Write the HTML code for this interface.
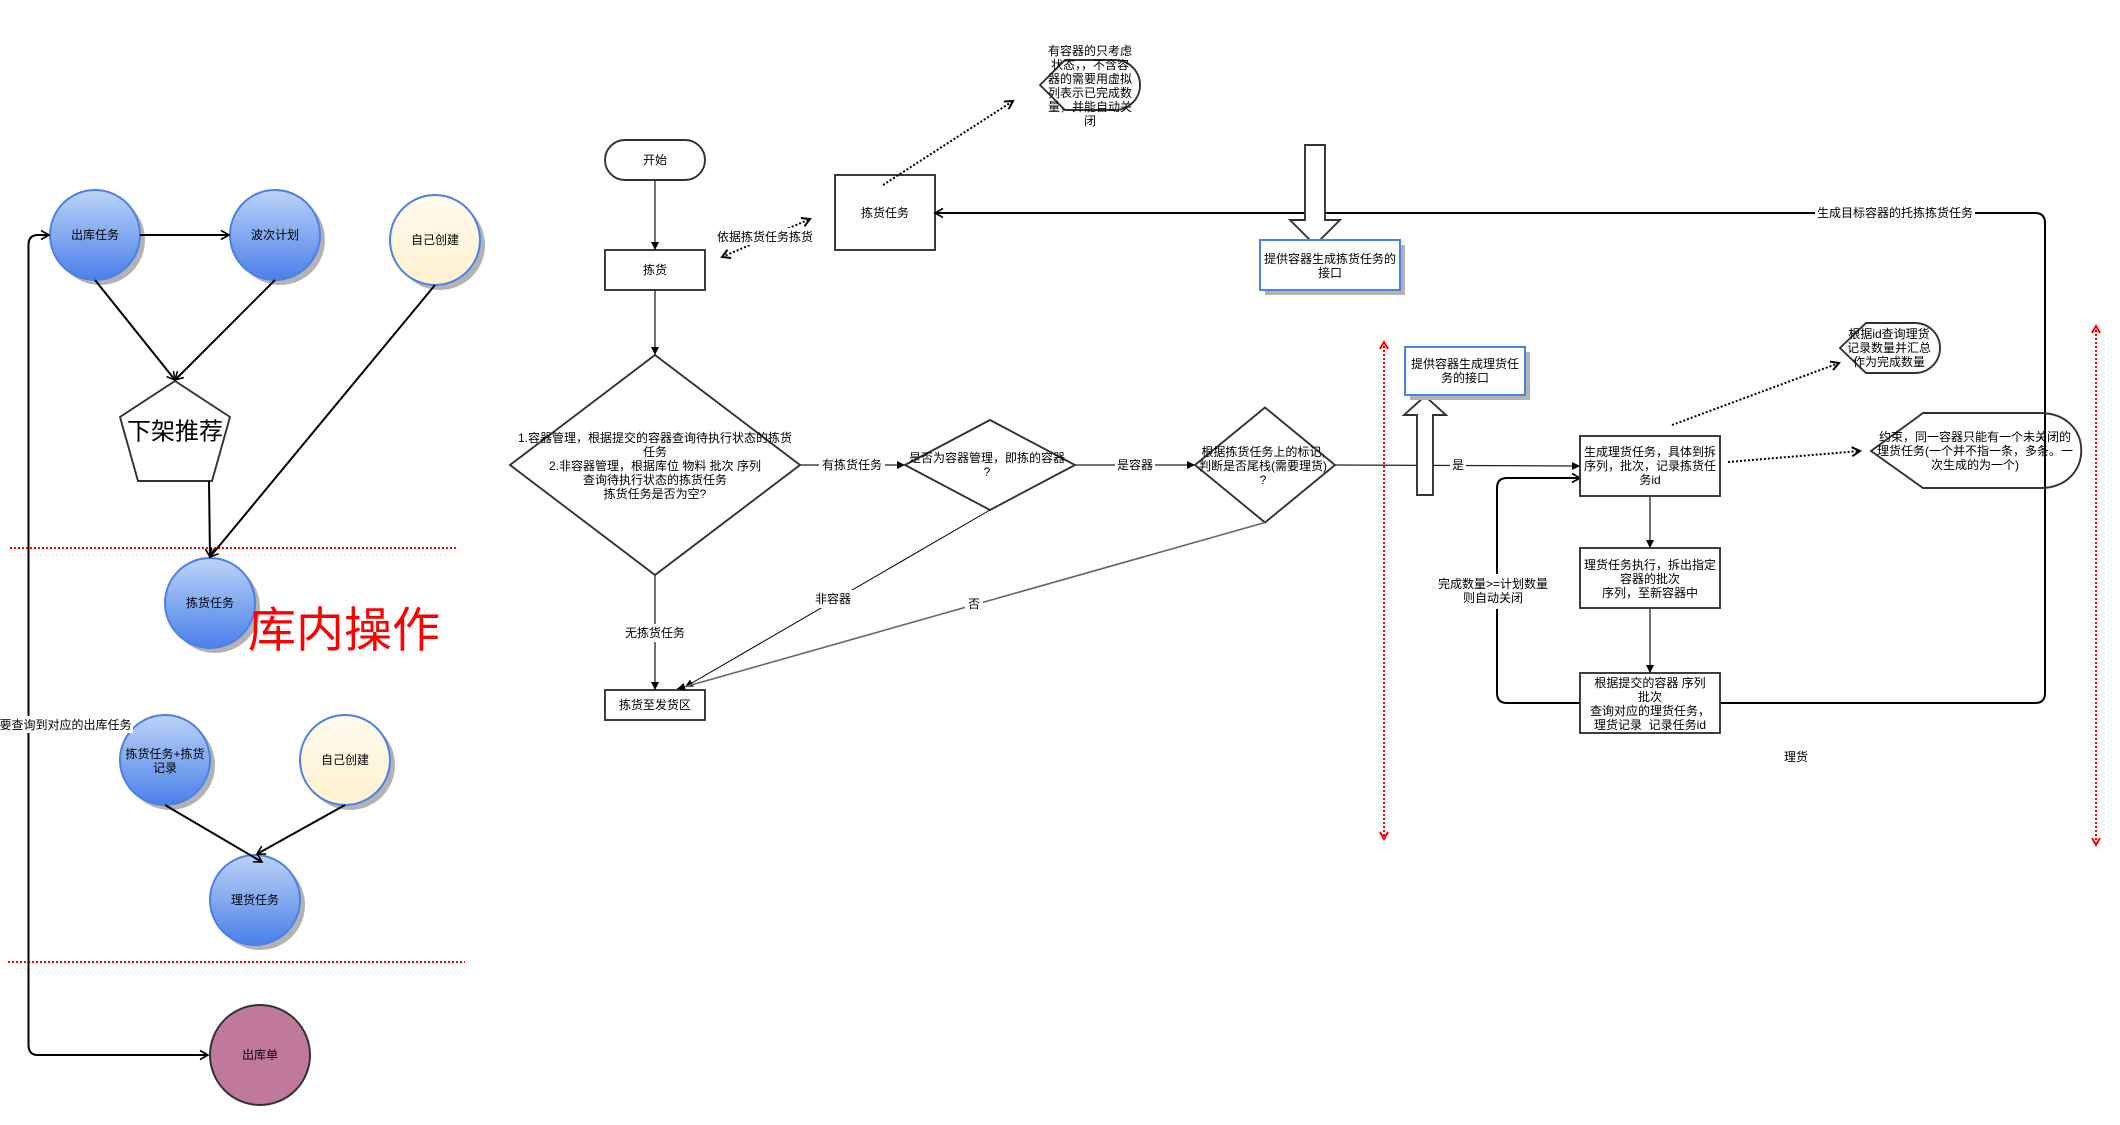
<!DOCTYPE html>
<html>
<head>
<meta charset="utf-8">
<style>
html,body{margin:0;padding:0;background:#fff;width:2120px;height:1125px;overflow:hidden}
svg{display:block;position:absolute;left:0;top:0}
text{font-family:"Liberation Sans","Noto Sans CJK SC",sans-serif;font-size:12px;fill:#000;text-anchor:middle;dominant-baseline:central;white-space:pre}
.c{stroke:#222;stroke-width:1.3;fill:none}
.t{stroke:#000;stroke-width:2;fill:none}
.s{stroke:#333;stroke-width:1.9;fill:#fff}
.b{stroke:#4a80e8;stroke-width:2}
.d{stroke:#000;stroke-width:2;stroke-dasharray:2 2;fill:none}
.r{stroke:#f00;stroke-width:2;stroke-dasharray:2 2;fill:none}
.lb{fill:#fff;stroke:none}
</style>
</head>
<body>
<svg width="2120" height="1125" viewBox="0 0 2120 1125" xmlns="http://www.w3.org/2000/svg">
<defs>
<linearGradient id="gb" x1="0" y1="0" x2="0" y2="1"><stop offset="0" stop-color="#bdd3f7"/><stop offset="1" stop-color="#4a80e8"/></linearGradient>
<linearGradient id="gy" x1="0" y1="0" x2="0" y2="1"><stop offset="0" stop-color="#fffbef"/><stop offset="1" stop-color="#fff1cf"/></linearGradient>
<marker id="block" markerUnits="userSpaceOnUse" markerWidth="9" markerHeight="9" refX="8" refY="4" orient="auto" overflow="visible"><path d="M0 0L8 4L0 8Z" fill="#000"/></marker>
<marker id="open" markerUnits="userSpaceOnUse" markerWidth="12" markerHeight="12" refX="9" refY="5" orient="auto" overflow="visible"><path d="M1 0.5L9 5L1 9.5M3 5L9 5" fill="none" stroke="#000" stroke-width="1.6"/></marker>
<marker id="openS" markerUnits="userSpaceOnUse" markerWidth="12" markerHeight="12" refX="9" refY="5" orient="auto-start-reverse" overflow="visible"><path d="M1 0.5L9 5L1 9.5" fill="none" stroke="#000" stroke-width="2"/></marker>
<marker id="red" markerUnits="userSpaceOnUse" markerWidth="12" markerHeight="12" refX="8" refY="5" orient="auto-start-reverse" overflow="visible"><path d="M1 1L8 5L1 9" fill="none" stroke="#f00" stroke-width="2"/></marker>
</defs>

<!-- Left side: red separators -->
<line x1="10" y1="548" x2="456" y2="548" class="r"/>
<line x1="8" y1="962" x2="465" y2="962" class="r"/>

<!-- Left circles -->
<circle cx="100" cy="240" r="45" fill="#b3b3b3"/>
<circle cx="280" cy="240" r="45" fill="#b3b3b3"/>
<circle cx="440" cy="245" r="45" fill="#b3b3b3"/>
<circle cx="215" cy="608" r="45" fill="#b3b3b3"/>
<circle cx="170" cy="765" r="45" fill="#b3b3b3"/>
<circle cx="350" cy="765" r="45" fill="#b3b3b3"/>
<circle cx="260" cy="905" r="45" fill="#b3b3b3"/>

<circle cx="95" cy="235" r="45" fill="url(#gb)" class="b"/>
<circle cx="275" cy="235" r="45" fill="url(#gb)" class="b"/>
<circle cx="435" cy="240" r="45" fill="url(#gy)" class="b"/>
<circle cx="210" cy="603" r="45" fill="url(#gb)" class="b"/>
<circle cx="165" cy="760" r="45" fill="url(#gb)" class="b"/>
<circle cx="345" cy="760" r="45" fill="url(#gy)" class="b"/>
<circle cx="255" cy="900" r="45" fill="url(#gb)" class="b"/>
<circle cx="260" cy="1055" r="50" fill="#c0789c" stroke="#333" stroke-width="2"/>

<polygon points="175,381 230,417 212,481 138,481 120,417" class="s"/>

<!-- Left connectors -->
<line x1="140" y1="235" x2="229" y2="235" class="t" marker-end="url(#open)"/>
<line x1="95" y1="280" x2="175" y2="380" class="t" marker-end="url(#open)"/>
<line x1="275" y1="280" x2="175" y2="380" class="t" marker-end="url(#open)"/>
<line x1="435" y1="285" x2="210" y2="557" class="t" marker-end="url(#open)"/>
<line x1="209" y1="481" x2="210" y2="557" class="t" marker-end="url(#open)"/>
<line x1="165" y1="805" x2="262" y2="862" class="t" marker-end="url(#open)"/>
<line x1="345" y1="805" x2="257" y2="854" class="t" marker-end="url(#open)"/>
<path d="M49 235H38Q28.500 235 28.500 245V1045Q28.500 1055 38 1055H208" class="t"/>
<path d="M38 235H49" class="t" marker-end="url(#open)"/>
<path d="M198 1055H208" class="t" marker-end="url(#open)"/>

<rect x="0" y="716" width="133" height="17" class="lb"/>
<text x="65.500" y="725">要查询到对应的出库任务</text>

<text x="95" y="235">出库任务</text>
<text x="275" y="235">波次计划</text>
<text x="435" y="240">自己创建</text>
<text x="210" y="603">拣货任务</text>
<text x="165" y="754">拣货任务+拣货</text>
<text x="165" y="768">记录</text>
<text x="345" y="760">自己创建</text>
<text x="255" y="900">理货任务</text>
<text x="260" y="1055">出库单</text>
<text x="175" y="432" style="font-size:24px">下架推荐</text>
<text x="344" y="631" style="font-size:48px;fill:#f00">库内操作</text>

<!-- Main flow shapes -->
<rect x="605" y="140" width="100" height="40" rx="20" ry="20" class="s"/>
<rect x="605" y="250" width="100" height="40" class="s"/>
<polygon points="655,355 800,465 655,575 510,465" class="s"/>
<rect x="605" y="690" width="100" height="30" class="s"/>
<rect x="835" y="175" width="100" height="75" class="s"/>
<polygon points="905,465 990,420 1075,465 990,510" class="s"/>
<polygon points="1195,465 1265,407.500 1335,465 1265,522.500" class="s"/>

<!-- Main connectors -->
<line x1="655" y1="180" x2="655" y2="250" class="c" marker-end="url(#block)"/>
<line x1="655" y1="290" x2="655" y2="355" class="c" marker-end="url(#block)"/>
<line x1="655" y1="575" x2="655" y2="690" class="c" marker-end="url(#block)"/>
<line x1="800" y1="465" x2="905" y2="465" class="c" marker-end="url(#block)"/>
<line x1="1075" y1="465" x2="1195" y2="465" class="c" marker-end="url(#block)"/>
<line x1="990" y1="510" x2="685" y2="687" stroke="#000" stroke-width="1" fill="none" marker-end="url(#block)"/>
<line x1="1265" y1="522.500" x2="677" y2="689" stroke="#666" stroke-width="1.6" fill="none" marker-end="url(#block)"/>
<line x1="1335" y1="465" x2="1580" y2="466" class="c" marker-end="url(#block)"/>
<line x1="1650" y1="496" x2="1650" y2="548" class="c" marker-end="url(#block)"/>
<line x1="1650" y1="608" x2="1650" y2="673" class="c" marker-end="url(#block)"/>

<!-- Dotted connectors -->
<line x1="722" y1="257" x2="810" y2="219" class="d" marker-start="url(#openS)" marker-end="url(#openS)"/>
<line x1="883" y1="185" x2="1013" y2="101" class="d" marker-end="url(#openS)"/>
<line x1="1672" y1="425" x2="1839" y2="363" class="d" marker-end="url(#openS)"/>
<line x1="1728" y1="462" x2="1860" y2="451" class="d" marker-end="url(#openS)"/>

<!-- Thick loops -->
<path d="M1580 703H1507Q1497 703 1497 693V488Q1497 478 1507 478H1580" class="t" marker-end="url(#open)"/>
<path d="M1720 703H2035Q2045 703 2045 693V223Q2045 213 2035 213H935" class="t" marker-end="url(#open)"/>

<!-- Boxes over loops -->
<rect x="1580" y="436" width="140" height="60" class="s"/>
<rect x="1580" y="548" width="140" height="60" class="s"/>
<rect x="1580" y="673" width="140" height="60" class="s"/>

<!-- Block arrows -->
<polygon points="1305,145 1325,145 1325,220 1340,220 1315,245 1290,220 1305,220" class="s"/>
<polygon points="1417,495 1433,495 1433,415 1446,415 1425,396 1404,415 1417,415" class="s"/>

<!-- Blue rects -->
<rect x="1265" y="245" width="140" height="50" fill="#b3b3b3"/>
<rect x="1260" y="240" width="140" height="50" fill="#fff" stroke="#4a80e8" stroke-width="2"/>
<rect x="1410" y="352" width="120" height="48" fill="#b3b3b3"/>
<rect x="1405" y="347" width="120" height="48" fill="#fff" stroke="#4a80e8" stroke-width="2"/>

<!-- Callouts -->
<path d="M1040 85L1065 60H1115A25 25 0 0 1 1115 110H1065Z" class="s" style="fill:none"/>
<path d="M1840 348L1866 323H1915A25 25 0 0 1 1915 373H1866Z" class="s" style="fill:none"/>
<path d="M1871 451L1923 413H2040C2095 413 2095 488 2040 488H1923Z" class="s" style="fill:none"/>

<!-- Red vertical arrows -->
<line x1="1384" y1="342" x2="1384" y2="839" class="r" marker-start="url(#red)" marker-end="url(#red)"/>
<line x1="2096" y1="326" x2="2096" y2="845" class="r" marker-start="url(#red)" marker-end="url(#red)"/>

<!-- Edge labels -->
<rect x="720" y="228" width="97" height="17" class="lb"/>
<text x="765" y="237">依据拣货任务拣货</text>
<rect x="819" y="456" width="66" height="18" class="lb"/>
<text x="852" y="465">有拣货任务</text>
<rect x="1115" y="456" width="40" height="18" class="lb"/>
<text x="1135" y="465">是容器</text>
<rect x="1450" y="456" width="16" height="18" class="lb"/>
<text x="1458" y="465">是</text>
<rect x="622" y="624" width="66" height="18" class="lb"/>
<text x="655" y="633">无拣货任务</text>
<rect x="813" y="590" width="40" height="18" class="lb"/>
<text x="833" y="599">非容器</text>
<rect x="965" y="595" width="18" height="18" class="lb"/>
<text x="974" y="604">否</text>
<rect x="1815" y="204" width="160" height="18" class="lb"/>
<text x="1895" y="213">生成目标容器的托拣拣货任务</text>
<rect x="1437" y="574" width="113" height="35" class="lb"/>
<text x="1493" y="584">完成数量&gt;=计划数量</text>
<text x="1493" y="598">则自动关闭</text>

<!-- Node text -->
<text x="655" y="160">开始</text>
<text x="655" y="270">拣货</text>
<text x="655" y="438">1.容器管理，根据提交的容器查询待执行状态的拣货</text>
<text x="655" y="452">任务</text>
<text x="655" y="466">2.非容器管理，根据库位 物料 批次 序列</text>
<text x="655" y="480">查询待执行状态的拣货任务</text>
<text x="655" y="494">拣货任务是否为空?</text>
<text x="655" y="705">拣货至发货区</text>
<text x="885" y="213">拣货任务</text>
<text x="987" y="458">是否为容器管理，即拣的容器</text>
<text x="987" y="472">?</text>
<text x="1263" y="452">根据拣货任务上的标记,</text>
<text x="1263" y="466">判断是否尾栈(需要理货)</text>
<text x="1263" y="480">?</text>
<text x="1090" y="51">有容器的只考虑</text>
<text x="1090" y="65">状态，，不含容</text>
<text x="1090" y="79">器的需要用虚拟</text>
<text x="1090" y="93">列表示已完成数</text>
<text x="1090" y="107">量，并能自动关</text>
<text x="1090" y="121">闭</text>
<text x="1330" y="259">提供容器生成拣货任务的</text>
<text x="1330" y="273">接口</text>
<text x="1465" y="364">提供容器生成理货任</text>
<text x="1465" y="378">务的接口</text>
<text x="1650" y="452">生成理货任务，具体到拆</text>
<text x="1650" y="466">序列，批次，记录拣货任</text>
<text x="1650" y="480">务id</text>
<text x="1650" y="565">理货任务执行，拆出指定</text>
<text x="1650" y="579">容器的批次</text>
<text x="1650" y="593">序列，至新容器中</text>
<text x="1650" y="683">根据提交的容器 序列</text>
<text x="1650" y="697">批次</text>
<text x="1650" y="711">查询对应的理货任务，</text>
<text x="1650" y="725">理货记录  记录任务id</text>
<text x="1889" y="334">根据id查询理货</text>
<text x="1889" y="348">记录数量并汇总</text>
<text x="1889" y="362">作为完成数量</text>
<text x="1975" y="437">约束，同一容器只能有一个未关闭的</text>
<text x="1975" y="451">理货任务(一个并不指一条，多条。一</text>
<text x="1975" y="465">次生成的为一个)</text>
<text x="1796" y="757">理货</text>
</svg>
</body>
</html>
